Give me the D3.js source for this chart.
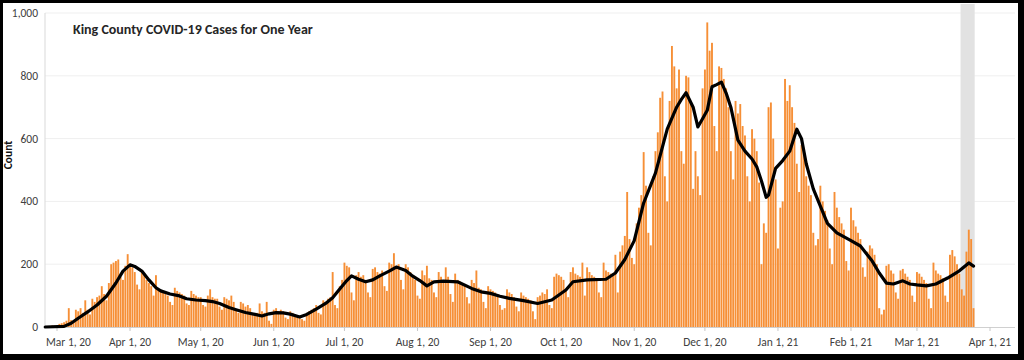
<!DOCTYPE html>
<html><head><meta charset="utf-8">
<script src="https://cdn.jsdelivr.net/npm/d3@7"></script>
<style>html,body{margin:0;padding:0;background:#fff;} svg{display:block;}</style>
</head><body>
<svg id="chart" width="1024" height="360"></svg>
<script>
// ---------- DATA ----------
const chartTitle = "King County COVID-19 Cases for One Year";
const yAxisTitle = "Count";
const yTickValues = [0, 200, 400, 600, 800, 1000];
const xTickDates = ["2020-03-01","2020-04-01","2020-05-01","2020-06-01","2020-07-01","2020-08-01",
  "2020-09-01","2020-10-01","2020-11-01","2020-12-01","2021-01-01","2021-02-01","2021-03-01","2021-04-01"];

// daily case counts, one array per month (first day given in monthStarts)
const monthStarts = ["2020-02-25","2020-03-01","2020-04-01","2020-05-01","2020-06-01","2020-07-01",
  "2020-08-01","2020-09-01","2020-10-01","2020-11-01","2020-12-01","2021-01-01","2021-02-01","2021-03-01"];
const cases2020Feb = [1, 2, 3, 5, 4];
const cases2020Mar = [4,10,12,15,20,60,22,18,55,50,60,45,85,55,40,90,80,95,100,130,105,85,140,200,205,210,215,160,150,195,232];
const cases2020Apr = [200,190,175,135,120,180,165,150,140,130,100,165,120,115,110,105,100,80,70,125,115,110,105,100,75,70,115,105,100,95];
const cases2020May = [95,70,65,100,120,95,90,90,65,55,95,90,85,100,80,55,45,80,75,65,70,60,40,35,45,75,50,45,80,20,10];
const cases2020Jun = [55,60,50,55,50,30,25,50,45,40,35,35,25,20,45,50,55,60,70,45,40,85,80,90,95,175,70,60,130,150];
const cases2020Jul = [205,195,190,110,85,165,175,160,165,150,110,95,185,190,175,170,180,130,115,205,200,235,195,200,150,120,200,190,175,160,150];
const cases2020Aug = [100,90,180,165,195,155,150,110,95,175,160,150,190,160,105,80,170,150,145,140,135,95,75,150,140,180,125,120,80,60,130];
const cases2020Sep = [120,115,110,105,70,55,60,120,110,105,95,65,50,110,100,95,90,85,50,25,95,100,110,105,120,70,60,160,170,165];
const cases2020Oct = [160,150,120,95,175,190,170,165,160,205,100,190,175,165,160,155,110,95,205,180,175,170,165,230,110,240,260,290,430,280,220];
const cases2020Nov = [200,330,380,420,557,450,300,260,480,560,620,730,750,480,400,720,895,830,760,820,560,520,800,795,720,440,560,480,420,760];
const cases2020Dec = [820,970,880,905,640,560,830,825,790,760,700,560,470,720,680,710,640,610,480,400,630,600,560,460,200,330,300,700,715,600,470];
const cases2021Jan = [250,380,400,790,720,770,700,650,520,430,580,550,480,450,420,300,260,280,450,400,370,340,250,200,430,380,350,330,310,210,180];
const cases2021Feb = [380,340,320,300,280,190,160,240,260,250,230,200,60,40,55,195,200,180,170,110,90,180,185,170,160,150,100,80];
const cases2021Mar = [175,170,160,150,140,90,60,205,180,170,165,155,100,80,230,245,225,200,170,120,100,240,310,280,60];

// 7-day average line
const avgLine = [["2020-02-25",0],["2020-03-04",2],["2020-03-07",12],["2020-03-10",28],["2020-03-14",48],["2020-03-18",70],
 ["2020-03-22",98],["2020-03-26",140],["2020-03-29",178],["2020-04-01",198],["2020-04-03",193],["2020-04-06",178],
 ["2020-04-09",150],["2020-04-12",125],["2020-04-14",115],["2020-04-18",105],["2020-04-22",99],["2020-04-25",90],
 ["2020-04-29",86],["2020-05-03",84],["2020-05-06",81],["2020-05-09",75],["2020-05-13",62],["2020-05-16",55],
 ["2020-05-20",46],["2020-05-24",40],["2020-05-27",35],["2020-05-30",42],["2020-06-02",46],["2020-06-05",45],
 ["2020-06-08",41],["2020-06-12",32],["2020-06-15",40],["2020-06-19",57],["2020-06-23",75],["2020-06-26",93],
 ["2020-06-29",121],["2020-07-02",148],["2020-07-04",163],["2020-07-07",152],["2020-07-10",144],["2020-07-13",150],
 ["2020-07-16",163],["2020-07-20",178],["2020-07-23",191],["2020-07-27",180],["2020-07-30",162],["2020-08-02",148],
 ["2020-08-05",131],["2020-08-08",144],["2020-08-12",146],["2020-08-18",144],["2020-08-24",123],["2020-08-28",112],
 ["2020-09-01",107],["2020-09-05",98],["2020-09-09",91],["2020-09-15",84],["2020-09-21",75],["2020-09-27",86],
 ["2020-10-03",118],["2020-10-06",144],["2020-10-12",150],["2020-10-20",152],["2020-10-24",172],["2020-10-28",215],
 ["2020-11-01",275],["2020-11-05",395],["2020-11-10",490],["2020-11-15",630],["2020-11-19",700],["2020-11-21",725],
 ["2020-11-23",746],["2020-11-26",700],["2020-11-28",637],["2020-11-30",663],["2020-12-02",690],["2020-12-04",765],
 ["2020-12-06",772],["2020-12-08",780],["2020-12-10",745],["2020-12-12",700],["2020-12-15",595],["2020-12-18",560],
 ["2020-12-21",535],["2020-12-23",510],["2020-12-25",465],["2020-12-27",413],["2020-12-28",420],["2020-12-31",505],
 ["2021-01-03",530],["2021-01-06",560],["2021-01-09",630],["2021-01-11",600],["2021-01-13",520],["2021-01-16",440],
 ["2021-01-19",385],["2021-01-22",330],["2021-01-26",300],["2021-02-01",275],["2021-02-05",258],["2021-02-10",210],
 ["2021-02-13",172],["2021-02-16",140],["2021-02-19",137],["2021-02-23",147],["2021-02-26",137],["2021-03-01",134],
 ["2021-03-05",131],["2021-03-09",137],["2021-03-14",156],["2021-03-19",179],["2021-03-23",204],["2021-03-25",194]];

// shaded (incomplete data) period
const incompleteRange = ["2021-03-20","2021-03-25"];
const xDomain = ["2020-03-01","2021-04-01"];

// ---------- CHART ----------
const parse = d3.timeParse("%Y-%m-%d");
const monthly = [cases2020Feb,cases2020Mar,cases2020Apr,cases2020May,cases2020Jun,cases2020Jul,cases2020Aug,
  cases2020Sep,cases2020Oct,cases2020Nov,cases2020Dec,cases2021Jan,cases2021Feb,cases2021Mar];
const daily = [];
monthly.forEach((arr, m) => {
  const s = parse(monthStarts[m]);
  arr.forEach((v, i) => daily.push({date: d3.timeDay.offset(s, i), value: v}));
});

const W = 1024, H = 360;
const plotL = 45, plotR = 1015, plotT = 13, plotB = 327;
const svg = d3.select("#chart");
const font = "Carlito, Lato, 'Open Sans', sans-serif";

svg.append("rect").attr("width", W).attr("height", H).attr("fill", "#000");
svg.append("rect").attr("x", 3).attr("y", 3).attr("width", 1015).attr("height", 351).attr("fill", "#fff");

const x = d3.scaleTime().domain(xDomain.map(parse)).range([57, 990]);
const y = d3.scaleLinear().domain([0, 1000]).range([plotB, plotT]);
const step = x(parse("2020-03-02")) - x(parse("2020-03-01"));

// gridlines
svg.append("g").selectAll("line").data(yTickValues.filter(d => d > 0)).join("line")
  .attr("x1", plotL).attr("x2", plotR).attr("y1", d => y(d)).attr("y2", d => y(d))
  .attr("stroke", "#efefef").attr("stroke-width", 1);

// shaded band
svg.append("rect")
  .attr("x", x(parse(incompleteRange[0])) - step / 2)
  .attr("width", x(parse(incompleteRange[1])) - x(parse(incompleteRange[0])) + step)
  .attr("y", 4).attr("height", plotB - 4)
  .attr("fill", "#e2e2e2");

// bars
const bw = step * 0.8;
svg.append("g").selectAll("rect").data(daily).join("rect")
  .attr("x", d => x(d.date) - bw / 2).attr("width", bw)
  .attr("y", d => y(d.value)).attr("height", d => plotB - y(d.value))
  .attr("fill", "#f68f36");

// axes lines
svg.append("line").attr("x1", plotL).attr("x2", plotL).attr("y1", plotT).attr("y2", plotB)
  .attr("stroke", "#d9d9d9");
svg.append("line").attr("x1", plotL).attr("x2", plotR).attr("y1", plotB + 0.5).attr("y2", plotB + 0.5)
  .attr("stroke", "#d0d0d0");

// x ticks
const xt = svg.append("g");
const fmt = d3.timeFormat("%b %-d, %y");
xTickDates.map(parse).forEach(d => {
  xt.append("line").attr("x1", x(d)).attr("x2", x(d)).attr("y1", plotB).attr("y2", plotB + 4)
    .attr("stroke", "#c8c8c8");
});
const xl = xt.selectAll("text").data(xTickDates.map(parse)).join("text")
  .attr("x", d => x(d)).attr("y", 346)
  .attr("text-anchor", "middle").attr("font-family", font).attr("font-size", 11.5)
  .attr("fill", "#404040").text(d => fmt(d));
xl.each(function() {
  const b = this.getBBox();
  if (b.x < plotL + 1) d3.select(this).attr("x", +d3.select(this).attr("x") + (plotL + 1 - b.x));
});

// y labels
svg.append("g").selectAll("text").data(yTickValues).join("text")
  .attr("x", 38).attr("y", d => y(d)).attr("dy", "0.35em")
  .attr("text-anchor", "end").attr("font-family", font).attr("font-size", 11.5)
  .attr("fill", "#404040").text(d => d3.format(",")(d));

// average line
svg.append("path").datum(avgLine)
  .attr("d", d3.line().x(d => x(parse(d[0]))).y(d => y(d[1])))
  .attr("fill", "none").attr("stroke", "#000").attr("stroke-width", 3.2)
  .attr("stroke-linejoin", "round").attr("stroke-linecap", "round");

// titles
svg.append("text").attr("x", 73).attr("y", 34).attr("font-family", font)
  .attr("font-size", 14).attr("font-weight", "bold").attr("fill", "#262626").text(chartTitle);
svg.append("text").attr("transform", "translate(12,155) rotate(-90)")
  .attr("text-anchor", "middle").attr("font-family", font).attr("font-size", 11.5)
  .attr("font-weight", "bold").attr("fill", "#111").text(yAxisTitle);
</script>
</body></html>
